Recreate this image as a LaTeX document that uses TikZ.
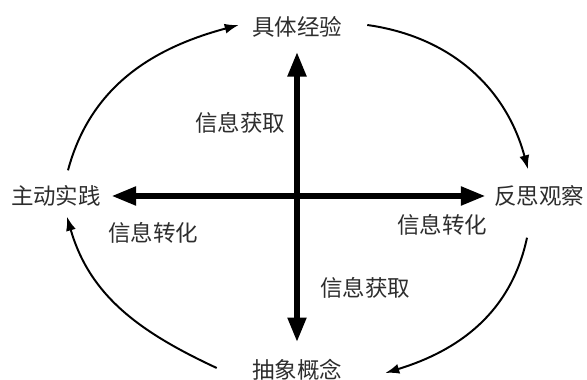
\documentclass[tikz,border=0pt]{standalone}
\usepackage{fontspec}
\setmainfont{Noto Sans CJK SC}
\usetikzlibrary{arrows.meta,positioning,calc}
\definecolor{textgray}{RGB}{45,45,45}
\tikzset{
    stage/.style={inner sep=0pt, text=textgray, font=\fontsize{16pt}{18pt}\selectfont},
    info/.style={inner sep=0pt, text=textgray, font=\fontsize{16pt}{18pt}\selectfont},
    axis/.style={line width=0.15cm, {Triangle[length=0.62cm,width=0.44cm]}-{Triangle[length=0.62cm,width=0.44cm]}},
    flow/.style={line width=1.4pt, -{Latex[length=0.35cm,width=0.25cm]}},
}
\begin{document}
\begin{tikzpicture}[x=0.025cm, y=0.025cm]
    \useasboundingbox (0,0) rectangle (587,380);
    \node[stage] (exp) at (297,353) {具体经验};
    \node[stage] (obs) at (539,184) {反思观察};
    \node[stage] (abs) at (297,10) {抽象概念};
    \node[stage] (act) at (56,184) {主动实践};

    % Axes
    \draw[axis, shorten <=0.42cm, shorten >=0.35cm] (abs.north) -- (exp.south);
    \draw[axis, shorten <=0.25cm, shorten >=0.2cm] (act.east) -- (obs.west);

    % Cycle
    \draw[flow] ($(act.north)+(12,15)$) to[out=75, in=195] ($(exp.west)+(-13,2)$);
    \draw[flow] ($(exp.east)+(25,2)$) to[out=-8, in=105] ($(obs.north)+(-11,16)$);
    \draw[flow] ($(obs.south)+(-12,-31)$) to[out=258, in=17] ($(abs.east)+(43,-3)$);
    \draw[flow] ($(abs.west)+(-35,2)$) to[out=155, in=286] ($(act.south)+(11,-10)$);

    % Labels
    \node[info] (get1) at (240,257) {信息获取};
    \node[info] (get2) at (365,92) {信息获取};
    \node[info] (turn1) at (153,147) {信息转化};
    \node[info] (turn2) at (442,155) {信息转化};
\end{tikzpicture}
\end{document}
